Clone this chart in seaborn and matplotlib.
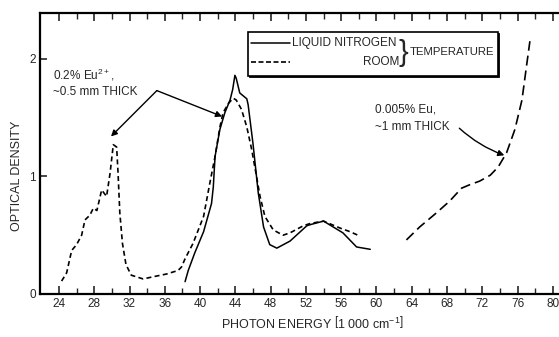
import numpy as np
import pandas as pd
import matplotlib
matplotlib.use("Agg")
import matplotlib.pyplot as plt
import seaborn as sns
from matplotlib.patches import Rectangle

# ---- data ----
room_x = [24.3, 24.87, 25.44, 26.0, 26.57, 26.95, 27.5, 27.9, 28.3, 28.84, 29.4, 29.8, 30.16,
          30.54, 30.7, 30.9, 31.2, 31.6, 32.2, 33.55, 34.7, 36.2, 37.5, 37.9, 38.3, 39.2,
          40.4, 41.1, 41.7, 42.25, 42.6, 43.2, 43.76, 44.1, 44.7, 45.3, 45.85, 46.4, 46.8,
          47.35, 48.3, 49.4, 50.2, 51.7, 52.5, 54.0, 55.9, 57.0, 57.9]
room_y = [0.11, 0.18, 0.37, 0.42, 0.50, 0.63, 0.67, 0.73, 0.71, 0.885, 0.83, 1.03, 1.27,
          1.25, 1.03, 0.69, 0.43, 0.25, 0.16, 0.128, 0.147, 0.17, 0.20, 0.23, 0.30, 0.43,
          0.66, 0.94, 1.17, 1.42, 1.54, 1.62, 1.665, 1.65, 1.57, 1.42, 1.23, 1.0, 0.83,
          0.66, 0.545, 0.50, 0.52, 0.58, 0.60, 0.62, 0.56, 0.53, 0.50]

ln2_x = [38.3, 38.66, 39.4, 40.4, 41.3, 41.5, 41.7, 42.25, 42.8, 43.4, 43.7, 43.95, 44.1,
         44.5, 45.3, 45.45, 46.0, 46.6, 47.2, 47.9, 48.7, 50.2, 52.1, 52.5, 54.0, 56.2,
         57.75, 59.3]
ln2_y = [0.105, 0.20, 0.35, 0.53, 0.77, 0.91, 1.17, 1.40, 1.54, 1.65, 1.74, 1.86, 1.835,
         1.71, 1.66, 1.61, 1.28, 0.86, 0.57, 0.42, 0.39, 0.45, 0.58, 0.59, 0.62, 0.52,
         0.40, 0.38]

eu_x = [63.4, 64.9, 66.8, 68.3, 69.65, 70.6, 71.7, 72.9, 73.8, 74.75, 75.7, 76.5, 77.0, 77.4]
eu_y = [0.46, 0.57, 0.69, 0.79, 0.90, 0.93, 0.96, 1.01, 1.08, 1.20, 1.40, 1.65, 1.93, 2.15]

x_ticks = list(range(24, 81, 4))
y_ticks = [0, 1, 2]

# ---- style ----
sns.set_style("ticks")
plt.rcParams['font.family'] = ['Liberation Sans', 'DejaVu Sans']
plt.rcParams['mathtext.fontset'] = 'custom'
plt.rcParams['mathtext.rm'] = 'Liberation Sans'
plt.rcParams['mathtext.it'] = 'Liberation Sans'

FS = 8.5

fig = plt.figure(figsize=(5.59, 3.37), dpi=100)
ax = fig.add_axes([40 / 559, 43 / 337, 1 - 40 / 559, (294 - 13) / 337])

df_room = pd.DataFrame({"E": room_x, "OD": room_y})
df_ln2 = pd.DataFrame({"E": ln2_x, "OD": ln2_y})
df_eu = pd.DataFrame({"E": eu_x, "OD": eu_y})

sns.lineplot(data=df_room, x="E", y="OD", ax=ax, color="black", lw=1.2,
             linestyle=(0, (3, 2)), sort=False, estimator=None)
sns.lineplot(data=df_ln2, x="E", y="OD", ax=ax, color="black", lw=1.1,
             sort=False, estimator=None)
sns.lineplot(data=df_eu, x="E", y="OD", ax=ax, color="black", lw=1.2,
             linestyle=(0, (6, 3)), sort=False, estimator=None)

ax.set_xlim(21.85, 80.7)
ax.set_ylim(0, 2.39)
ax.set_xticks(x_ticks)
ax.set_xticklabels([str(t) for t in x_ticks], fontsize=8.5)
ax.set_xticks(np.arange(26, 81, 4), minor=True)
ax.set_yticks(y_ticks)
ax.set_yticklabels([str(t) for t in y_ticks], fontsize=8.5)
ax.tick_params(axis='x', which='major', direction='in', length=6, width=1.2, top=True,
               pad=3)
ax.tick_params(axis='x', which='minor', direction='in', length=4, width=1.0, top=True)
ax.tick_params(axis='y', which='major', direction='in', length=5, width=1.2, pad=3)
for s in ['left', 'bottom', 'top']:
    ax.spines[s].set_linewidth(1.6)
    ax.spines[s].set_color('black')
ax.spines['right'].set_visible(False)

ax.set_xlabel(r"PHOTON ENERGY $\left[1\ 000\ \mathrm{cm}^{-1}\right]$", fontsize=9)
ax.xaxis.set_label_coords(0.524, -0.075)
ax.set_ylabel("OPTICAL DENSITY", fontsize=9)
ax.yaxis.set_label_coords(-0.032, 0.42)

# ---- annotations ----
ax.text(23.3, 1.80, r"0.2% Eu$^{2+}$," + "\n~0.5 mm THICK", fontsize=FS,
        va='center', ha='left', linespacing=1.35)
ax.annotate("", xy=(29.9, 1.34), xytext=(35.1, 1.73),
            arrowprops=dict(arrowstyle='-|>', color='black', lw=1.0, mutation_scale=9,
                            shrinkA=0, shrinkB=0))
ax.annotate("", xy=(42.5, 1.51), xytext=(35.1, 1.73),
            arrowprops=dict(arrowstyle='-|>', color='black', lw=1.0, mutation_scale=9,
                            shrinkA=0, shrinkB=0))

ax.text(59.8, 1.495, "0.005% Eu,\n~1 mm THICK", fontsize=FS, va='center', ha='left',
        linespacing=1.6)
ax.annotate("", xy=(74.5, 1.18), xytext=(69.4, 1.41),
            arrowprops=dict(arrowstyle='-|>', color='black', lw=1.0, mutation_scale=9,
                            shrinkA=0, shrinkB=0, connectionstyle="arc3,rad=0.1"))

# ---- legend box ----
ax.add_patch(Rectangle((45.53, 1.847), 73.77 - 45.43, 2.23 - 1.855,
                       transform=ax.transData, fill=True, fc='black', ec='black',
                       lw=0.6, zorder=4))
ax.add_patch(Rectangle((45.43, 1.855), 73.77 - 45.43, 2.23 - 1.855,
                       transform=ax.transData, fill=True, fc='white', ec='black',
                       lw=1.2, zorder=5))
ax.plot([45.8, 50.2], [2.136, 2.136], color='black', lw=1.1, zorder=6)
ax.plot([45.8, 50.2], [1.974, 1.974], color='black', lw=1.2, linestyle=(0, (3, 1.5)),
        zorder=6)
ax.text(50.4, 2.136, "LIQUID NITROGEN", fontsize=FS, va='center', ha='left', zorder=6)
ax.text(62.6, 1.974, "ROOM", fontsize=FS, va='center', ha='right', zorder=6)
ax.text(62.55, 2.05, "}", fontsize=21, va='center', ha='left', zorder=6,
        fontweight='light')
ax.text(63.8, 2.055, "TEMPERATURE", fontsize=8.2, va='center', ha='left', zorder=6)

fig.savefig("out.png", dpi=100)
